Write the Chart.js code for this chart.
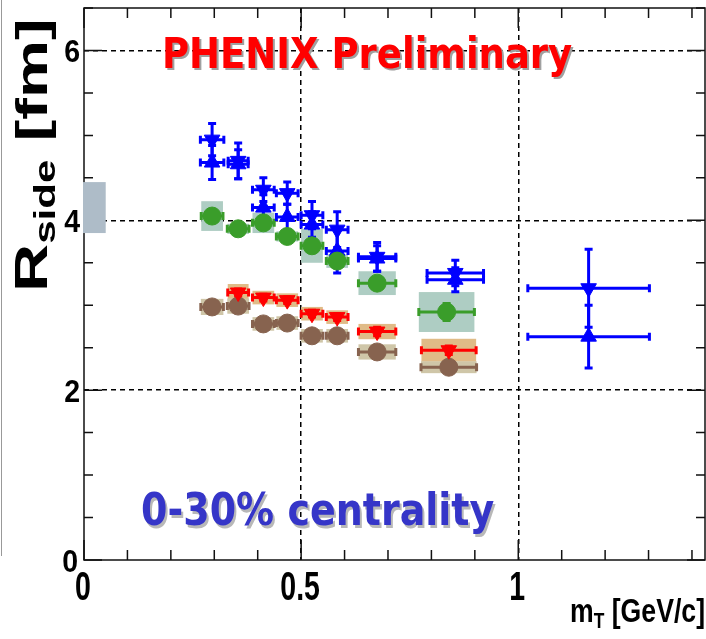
<!DOCTYPE html>
<html>
<head>
<meta charset="utf-8">
<script src="https://cdn.jsdelivr.net/npm/chart.js@4.4.1/dist/chart.umd.min.js"></script>
<style>
  html, body { margin: 0; padding: 0; background: #fff; }
  canvas { display: block; }
</style>
</head>
<body>
<canvas id="chart" width="706" height="639"></canvas>
<script>
// values (m_T in GeV/c, R_side in fm)
const mtBlue = [0.295, 0.355, 0.413, 0.468, 0.525, 0.583, 0.675, 0.855, 1.162];
const mtErrBlue = [0.027, 0.023, 0.025, 0.025, 0.025, 0.025, 0.043, 0.065, 0.14];
const rBlueDown = [4.95, 4.70, 4.36, 4.32, 4.06, 3.89, 3.57, 3.38, 3.20];
const rErrBlueDown = [0.19, 0.21, 0.14, 0.13, 0.16, 0.21, 0.17, 0.15, 0.46];
const rBlueUp = [4.68, 4.66, 4.15, 4.04, 3.95, 3.64, 3.55, 3.30, 2.63];
const rErrBlueUp = [0.20, 0.17, 0.15, 0.15, 0.15, 0.26, 0.15, 0.14, 0.37];

const mtGreen = [0.295, 0.355, 0.413, 0.468, 0.525, 0.583, 0.675, 0.835];
const mtErrGreen = [0.025, 0.025, 0.025, 0.025, 0.025, 0.025, 0.043, 0.064];
const rGreen = [4.05, 3.90, 3.97, 3.81, 3.70, 3.52, 3.26, 2.92];
const rErrGreen = [0.04, 0.04, 0.04, 0.04, 0.05, 0.05, 0.05, 0.10];
const sysGreen = [0.175, 0.06, 0.12, 0.06, 0.20, 0.08, 0.14, 0.235];

const mtRed = [0.355, 0.413, 0.468, 0.525, 0.583, 0.675, 0.84];
const mtErrRed = [0.024, 0.025, 0.025, 0.025, 0.025, 0.043, 0.063];
const rRed = [3.15, 3.09, 3.06, 2.90, 2.86, 2.69, 2.47];
const rErrRed = [0.04, 0.04, 0.04, 0.04, 0.04, 0.05, 0.05];
const sysRed = [0.10, 0.08, 0.08, 0.08, 0.08, 0.09, 0.135];

const mtBrown = [0.295, 0.355, 0.413, 0.468, 0.525, 0.583, 0.675, 0.84];
const mtErrBrown = [0.026, 0.025, 0.025, 0.025, 0.025, 0.025, 0.043, 0.064];
const rBrown = [2.98, 2.99, 2.78, 2.79, 2.64, 2.64, 2.45, 2.27];
const rErrBrown = [0.04, 0.04, 0.04, 0.04, 0.04, 0.04, 0.04, 0.05];
const sysBrown = [0.095, 0.09, 0.08, 0.08, 0.08, 0.08, 0.09, 0.07];

// global scale uncertainty band at the left edge
const normBandX = [0, 0.05];
const normBandY = [3.85, 4.45];

const xMajor = [0, 0.5, 1];
const xTickLabels = ['0', '0.5', '1'];
const yMajor = [0, 2, 4, 6];
const yTickLabels = ['0', '2', '4', '6'];

function pts(xs, ys) {
  return xs.map((v, i) => ({ x: v, y: ys[i] }));
}

function isMult(v, step) {
  return Math.abs(v / step - Math.round(v / step)) < 1e-6;
}

function stretchText(ctx, str, x, y, font, color, sx, sy, align) {
  ctx.save();
  ctx.font = font;
  ctx.fillStyle = color;
  ctx.textAlign = align || 'left';
  ctx.textBaseline = 'alphabetic';
  ctx.translate(x, y);
  ctx.scale(sx, sy);
  ctx.fillText(str, 0, 0);
  ctx.restore();
}

// systematic boxes + error bars with little end caps, ROOT style
const errorPlugin = {
  id: 'rootErrors',
  beforeDatasetsDraw(chart) {
    const { ctx, scales: { x, y } } = chart;
    ctx.save();
    chart.data.datasets.forEach(ds => {
      if (!ds.sys) return;
      ctx.fillStyle = ds.sysColor;
      ds.data.forEach((p, i) => {
        const l = x.getPixelForValue(p.x - ds.errX[i]);
        const r = x.getPixelForValue(p.x + ds.errX[i]);
        const t = y.getPixelForValue(p.y + ds.sys[i]);
        const b = y.getPixelForValue(p.y - ds.sys[i]);
        ctx.fillRect(l, t, r - l, b - t);
      });
    });
    chart.data.datasets.forEach(ds => {
      ctx.strokeStyle = ds.borderColor;
      ctx.lineWidth = 3;
      ds.data.forEach((p, i) => {
        const px = x.getPixelForValue(p.x), py = y.getPixelForValue(p.y);
        const l = x.getPixelForValue(p.x - ds.errX[i]);
        const r = x.getPixelForValue(p.x + ds.errX[i]);
        const t = y.getPixelForValue(p.y + ds.errY[i]);
        const b = y.getPixelForValue(p.y - ds.errY[i]);
        ctx.beginPath();
        ctx.moveTo(l, py); ctx.lineTo(r, py);
        ctx.moveTo(px, t); ctx.lineTo(px, b);
        ctx.stroke();
        ctx.beginPath();
        ctx.moveTo(l, py - 4); ctx.lineTo(l, py + 4);
        ctx.moveTo(r, py - 4); ctx.lineTo(r, py + 4);
        ctx.moveTo(px - 4, t); ctx.lineTo(px + 4, t);
        ctx.moveTo(px - 4, b); ctx.lineTo(px + 4, b);
        ctx.stroke();
      });
    });
    ctx.restore();
  }
};

const framePlugin = {
  id: 'rootFrame',
  afterDraw(chart) {
    const { ctx, chartArea: a, scales: { x, y } } = chart;
    ctx.save();
    ctx.strokeStyle = '#111';
    ctx.lineWidth = 1.5;
    ctx.strokeRect(a.left, a.top, a.right - a.left, a.bottom - a.top);

    // inward ticks on all four sides
    ctx.beginPath();
    x.ticks.forEach(t => {
      const px = x.getPixelForValue(t.value);
      const len = isMult(t.value, 0.5) ? 20 : 10;
      ctx.moveTo(px, a.bottom); ctx.lineTo(px, a.bottom - len);
      ctx.moveTo(px, a.top); ctx.lineTo(px, a.top + len);
    });
    y.ticks.forEach(t => {
      const py = y.getPixelForValue(t.value);
      const len = isMult(t.value, 2) ? 18 : 9;
      ctx.moveTo(a.left, py); ctx.lineTo(a.left + len, py);
      ctx.moveTo(a.right, py); ctx.lineTo(a.right - len, py);
    });
    ctx.stroke();

    // normalisation band drawn over the frame
    ctx.fillStyle = '#aebcc8';
    const bl = x.getPixelForValue(normBandX[0]) - 1, br = x.getPixelForValue(normBandX[1]);
    const bt = y.getPixelForValue(normBandY[1]), bb = y.getPixelForValue(normBandY[0]);
    ctx.fillRect(bl, bt, br - bl, bb - bt);

    // thin border at the far left of the picture
    ctx.strokeStyle = '#999';
    ctx.lineWidth = 1;
    ctx.beginPath();
    ctx.moveTo(1.5, 0); ctx.lineTo(1.5, 556);
    ctx.stroke();

    // tick labels
    const tickFont = 'bold 30px "Liberation Sans", Arial, sans-serif';
    xMajor.forEach((v, i) => {
      stretchText(ctx, xTickLabels[i], x.getPixelForValue(v) - 1, 600, tickFont, '#000', 0.95, 1.35, 'center');
    });
    yMajor.forEach((v, i) => {
      stretchText(ctx, yTickLabels[i], i === 0 ? 78 : 80, y.getPixelForValue(v) + 12, tickFont, '#000', 0.95, 1.07, 'right');
    });

    // y title: R_side [fm], rotated
    ctx.save();
    ctx.translate(47, 292);
    ctx.rotate(-Math.PI / 2);
    ctx.scale(1.45, 1);
    ctx.fillStyle = '#000';
    ctx.textBaseline = 'alphabetic';
    ctx.font = 'bold 46px "Liberation Sans", Arial, sans-serif';
    ctx.fillText('R', 0, 0);
    let off = ctx.measureText('R').width;
    ctx.font = 'bold 29px "Liberation Sans", Arial, sans-serif';
    ctx.fillText('side', off, 8);
    off += ctx.measureText('side').width;
    ctx.font = 'bold 45px "Liberation Sans", Arial, sans-serif';
    ctx.fillText(' [fm]', off, 0);
    ctx.restore();

    // x title: m_T [GeV/c], squeezed to span 570..705
    ctx.save();
    ctx.font = 'bold 26px "Liberation Sans", Arial, sans-serif';
    const wM = ctx.measureText('m').width;
    const wRest = ctx.measureText(' [GeV/c]').width;
    ctx.font = 'bold 17px "Liberation Sans", Arial, sans-serif';
    const wT = ctx.measureText('T').width;
    const sxT = 135 / (wM + wT + wRest);
    ctx.translate(570, 622);
    ctx.scale(sxT, 1.25);
    ctx.fillStyle = '#000';
    ctx.font = 'bold 26px "Liberation Sans", Arial, sans-serif';
    ctx.fillText('m', 0, 0);
    ctx.font = 'bold 17px "Liberation Sans", Arial, sans-serif';
    ctx.fillText('T', wM, 5);
    ctx.font = 'bold 26px "Liberation Sans", Arial, sans-serif';
    ctx.fillText(' [GeV/c]', wM + wT, 0);
    ctx.restore();

    // annotations with drop shadow
    const labFont = 'bold 37px "DejaVu Sans", Verdana, sans-serif';
    stretchText(ctx, 'PHENIX Preliminary', 164, 70, labFont, '#a0a0a0', 1, 1.15);
    stretchText(ctx, 'PHENIX Preliminary', 162, 68, labFont, '#ff0000', 1, 1.15);
    const cenFont = 'bold 38px "DejaVu Sans", Verdana, sans-serif';
    stretchText(ctx, '0-30% centrality', 143, 528, cenFont, '#b8b8b8', 1, 1.15);
    stretchText(ctx, '0-30% centrality', 141, 525, cenFont, '#3535c8', 1, 1.15);
    ctx.restore();
  }
};

function series(label, xs, xErr, ys, yErr, color, style, rot, radius, sys, sysColor) {
  return {
    label,
    data: pts(xs, ys),
    errX: xErr,
    errY: yErr,
    sys,
    sysColor,
    borderColor: color,
    backgroundColor: color,
    pointStyle: style,
    rotation: rot,
    pointRadius: radius,
    pointBorderWidth: 1,
    showLine: false
  };
}

const ctx = document.getElementById('chart').getContext('2d');
new Chart(ctx, {
  type: 'scatter',
  data: {
    datasets: [
      series('green', mtGreen, mtErrGreen, rGreen, rErrGreen, '#3a9d2a', 'circle', 0, 9, sysGreen, '#aecdc3'),
      series('red', mtRed, mtErrRed, rRed, rErrRed, '#ff0000', 'triangle', 180, 9, sysRed, '#e0bb87'),
      series('brown', mtBrown, mtErrBrown, rBrown, rErrBrown, '#87634f', 'circle', 0, 9, sysBrown, '#cfc6a8'),
      series('blue down', mtBlue, mtErrBlue, rBlueDown, rErrBlueDown, '#0000ff', 'triangle', 180, 9, null, null),
      series('blue up', mtBlue, mtErrBlue, rBlueUp, rErrBlueUp, '#0000ff', 'triangle', 0, 9, null, null)
    ]
  },
  options: {
    responsive: false,
    animation: false,
    layout: { autoPadding: false, padding: { top: 8, right: 1, left: 0, bottom: 0 } },
    plugins: { legend: { display: false }, tooltip: { enabled: false } },
    scales: {
      x: {
        type: 'linear',
        min: 0,
        max: 1.43,
        afterFit: s => { s.height = 79; },
        ticks: { display: false, stepSize: 0.1, includeBounds: false, autoSkip: false },
        border: { display: false, dash: [5, 4] },
        grid: {
          drawTicks: false,
          lineWidth: 1.5,
          color: c => (c.tick && c.tick.value > 0 && isMult(c.tick.value, 0.5)) ? '#000' : 'rgba(0,0,0,0)'
        }
      },
      y: {
        type: 'linear',
        min: 0,
        max: 6.5,
        afterFit: s => { s.width = 84; },
        ticks: { display: false, stepSize: 0.5, includeBounds: false, autoSkip: false },
        border: { display: false, dash: [5, 4] },
        grid: {
          drawTicks: false,
          lineWidth: 1.5,
          color: c => (c.tick && c.tick.value > 0 && isMult(c.tick.value, 2)) ? '#000' : 'rgba(0,0,0,0)'
        }
      }
    }
  },
  plugins: [errorPlugin, framePlugin]
});
</script>
</body>
</html>
